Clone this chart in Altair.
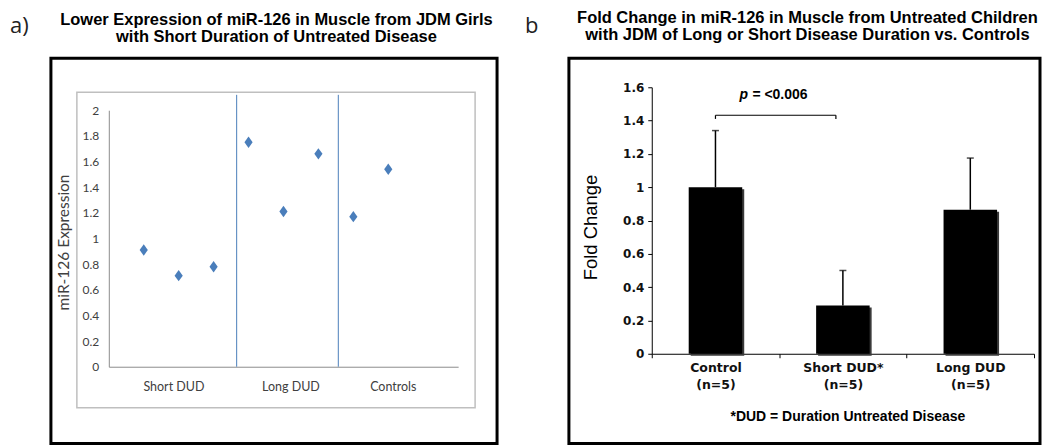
import altair as alt
import pandas as pd

# ---------------- Panel a data ----------------
a_index = [1, 2, 3, 4, 5, 6, 7, 8]
a_groups = ["Short DUD", "Short DUD", "Short DUD", "Long DUD", "Long DUD", "Long DUD", "Controls", "Controls"]
a_values = [0.91, 0.71, 0.78, 1.75, 1.21, 1.66, 1.17, 1.54]
a_group_names = ["Short DUD", "Long DUD", "Controls"]
a_label_pos = [1.85, 5.2, 8.13]
a_separators = [3.66, 6.57]
a_sep_top = 2.12
a_ticks = [0, 0.2, 0.4, 0.6, 0.8, 1, 1.2, 1.4, 1.6, 1.8, 2]
a_title = ["Lower Expression of miR-126 in Muscle from JDM Girls",
           "with Short Duration of Untreated Disease"]

# ---------------- Panel b data ----------------
b_groups = ["Control", "Short DUD*", "Long DUD"]
b_n = [5, 5, 5]
b_means = [1.0, 0.29, 0.865]
b_upper = [1.34, 0.50, 1.175]
b_ticks = [0, 0.2, 0.4, 0.6, 0.8, 1, 1.2, 1.4, 1.6]
b_p_text = "= <0.006"
b_bracket_y = 1.432
b_bracket_end = 1.41
b_p_y = 1.553
b_title = ["Fold Change in miR-126 in Muscle from Untreated Children",
           "with JDM of Long or Short Disease Duration vs. Controls"]
b_footer = "*DUD = Duration Untreated Disease"

BLUE = "#4a7ebb"
DIAMOND = "M0,-1L0.72,0L0,1L-0.72,0Z"
TITLE_FONT = "Liberation Sans"

# ---------------- Panel a ----------------
df_a = pd.DataFrame({"idx": a_index, "group": a_groups, "value": a_values})
df_sep = pd.DataFrame({"pos": a_separators, "y0": [0] * len(a_separators), "y1": [a_sep_top] * len(a_separators)})

xa = alt.Scale(domain=[0, 10], range=[58, 408], nice=False, zero=False)
ya = alt.Scale(domain=[0, 2], range=[309, 52], nice=False, zero=False)

label_expr_a = (
    f"datum.value < {a_separators[0]} ? '{a_group_names[0]}' : "
    f"(datum.value < {a_separators[1]} ? '{a_group_names[1]}' : '{a_group_names[2]}')"
)

xa_axis = alt.Axis(
    values=a_label_pos, labelExpr=label_expr_a, ticks=False, tickSize=0,
    domainColor="#8c8c8c", domainWidth=1, offset=-77, title=None, grid=False,
    labelFont="Lato", labelFontSize=12.5, labelColor="#404040",
    labelPadding=20, labelBaseline="middle", labelFlush=False, labelOverlap=False,
)
ya_axis = alt.Axis(
    values=a_ticks, format="~g", ticks=False, tickSize=0,
    domainColor="#8c8c8c", domainWidth=1, offset=-58, grid=False,
    labelFont="Lato", labelFontSize=12, labelColor="#404040", labelPadding=10,
    labelFlush=False, labelOverlap=False,
    title="miR-126 Expression", titleFont="Lato", titleFontSize=15.5,
    titleFontWeight="normal", titleColor="#404040", titleAngle=-90,
    titleX=-45, titleY=184, titleBaseline="middle", titleAlign="center",
)

pts = alt.Chart(df_a).mark_point(
    filled=True, shape=DIAMOND, size=130, color=BLUE, opacity=1
).encode(
    x=alt.X("idx:Q", scale=xa, axis=xa_axis),
    y=alt.Y("value:Q", scale=ya, axis=ya_axis),
)

inner_box = alt.Chart(alt.Data(values=[{"k": 1}])).mark_rect(
    fill="transparent", stroke="#bfbfbf", strokeWidth=1.5
).encode(x=alt.value(26), x2=alt.value(425), y=alt.value(34), y2=alt.value(350))

seps = alt.Chart(df_sep).mark_rule(color=BLUE, strokeWidth=1).encode(
    x=alt.X("pos:Q", scale=xa, axis=xa_axis),
    y=alt.Y("y0:Q", scale=ya, axis=ya_axis),
    y2="y1:Q",
)

letter_a = alt.Chart(alt.Data(values=[{"t": "a)"}])).mark_text(
    font="Open Sans", fontSize=22, align="left", baseline="alphabetic", color="#222222"
).encode(x=alt.value(-41), y=alt.value(-25), text="t:N")

title_a = alt.Chart(alt.Data(values=[{"t": "\n".join(a_title)}])).mark_text(
    font=TITLE_FONT, fontSize=16.5, fontWeight="bold", align="center",
    baseline="alphabetic", lineBreak="\n", lineHeight=16.5, color="black"
).encode(x=alt.value(226), y=alt.value(-33), text="t:N")

panel_a = alt.layer(pts, inner_box, seps, letter_a, title_a).properties(
    width=447, height=386,
)

# ---------------- Panel b ----------------
df_b = pd.DataFrame({"group": b_groups, "mean": b_means, "upper": b_upper, "n": b_n})
n_map = "{" + ", ".join(f"'{g}': '(n={n})'" for g, n in zip(b_groups, b_n)) + "}"
label_expr_b = f"[datum.label, {n_map}[datum.label]]"

xb = alt.Scale(domain=b_groups, range=[83, 466], paddingInner=0, paddingOuter=0)
yb = alt.Scale(domain=[0, 1.6], range=[296, 29], nice=False, zero=False)

xb_axis = alt.Axis(
    labelExpr=label_expr_b, labelAngle=0, tickBand="extent", tickSize=4,
    tickColor="black", domainColor="black", offset=-90, grid=False,
    labelFont="DejaVu Sans", labelFontWeight="bold", labelFontSize=12.5,
    labelColor="#111111", labelPadding=4, labelLineHeight=17,
    title=b_footer, titleFont=TITLE_FONT, titleFontSize=14,
    titleFontWeight="bold", titleColor="black", titleX=279, titleY=63,
    titleBaseline="middle", titleAlign="center",
)
yb_axis = alt.Axis(
    values=b_ticks, format="~g", tickSize=4, tickColor="black",
    domainColor="black", offset=-83, grid=False,
    labelFont="DejaVu Sans", labelFontWeight="bold", labelFontSize=12,
    labelColor="#111111", labelPadding=4, labelFlush=False, labelOverlap=False,
    title="Fold Change", titleFont=TITLE_FONT, titleFontSize=18.5,
    titleFontWeight="normal", titleColor="black", titleAngle=-90,
    titleX=-61, titleY=169, titleBaseline="middle", titleAlign="center",
)


def bx(field):
    return alt.X(field, type="nominal", scale=xb, sort=b_groups, axis=xb_axis)


def by(field):
    return alt.Y(field, type="quantitative", scale=yb, axis=yb_axis)


shadow = alt.Chart(df_b).mark_bar(
    color="#3a3a3a", width=alt.RelativeBandSize(0.42), xOffset=2, yOffset=2
).encode(x=bx("group"), y=by("mean"))

bars = alt.Chart(df_b).mark_bar(
    color="black", width=alt.RelativeBandSize(0.42)
).encode(x=bx("group"), y=by("mean"))

err = alt.Chart(df_b).mark_rule(color="black", strokeWidth=1.5).encode(
    x=bx("group"), y=by("mean"), y2="upper:Q")

caps = alt.Chart(df_b).mark_tick(color="black", size=7, thickness=1.5).encode(
    x=bx("group"), y=by("upper"))

df_br = pd.DataFrame({"g1": [b_groups[0]], "g2": [b_groups[1]],
                      "y": [b_bracket_y], "ye": [b_bracket_end]})
bracket_h = alt.Chart(df_br).mark_rule(color="black", strokeWidth=1.2, x2Offset=-7).encode(
    x=bx("g1"), x2="g2:N", y=by("y"))
bracket_l = alt.Chart(df_br).mark_rule(color="black", strokeWidth=1.2).encode(
    x=bx("g1"), y=by("y"), y2="ye:Q")
bracket_r = alt.Chart(df_br).mark_rule(color="black", strokeWidth=1.2, xOffset=-7).encode(
    x=bx("g2"), y=by("y"), y2="ye:Q")

df_p = pd.DataFrame({"g": [b_groups[0]], "y": [b_p_y], "p": ["p"], "rest": [b_p_text]})
p_italic = alt.Chart(df_p).mark_text(
    font=TITLE_FONT, fontSize=14, fontWeight="bold", fontStyle="italic",
    align="left", baseline="middle", dx=24, color="black"
).encode(x=bx("g"), y=by("y"), text="p:N")
p_rest = alt.Chart(df_p).mark_text(
    font=TITLE_FONT, fontSize=14, fontWeight="bold",
    align="left", baseline="middle", dx=37, color="black"
).encode(x=bx("g"), y=by("y"), text="rest:N")

letter_b = alt.Chart(alt.Data(values=[{"t": "b"}])).mark_text(
    font="Open Sans", fontSize=22, align="left", baseline="alphabetic", color="#222222"
).encode(x=alt.value(-44), y=alt.value(-25), text="t:N")

title_b = alt.Chart(alt.Data(values=[{"t": "\n".join(b_title)}])).mark_text(
    font=TITLE_FONT, fontSize=16.5, fontWeight="bold", align="center",
    baseline="alphabetic", lineBreak="\n", lineHeight=16.5, color="black"
).encode(x=alt.value(239), y=alt.value(-35), text="t:N")

panel_b = alt.layer(shadow, bars, err, caps, bracket_h, bracket_l, bracket_r,
                    p_italic, p_rest, letter_b, title_b).properties(
    width=472, height=386,
)

chart = alt.hconcat(panel_a, panel_b, spacing=24).properties(
    padding=0, background="white"
).configure_view(stroke="black", strokeWidth=3, fill="white")

chart.save("out.html", embed_options={"renderer": "svg", "actions": False})
